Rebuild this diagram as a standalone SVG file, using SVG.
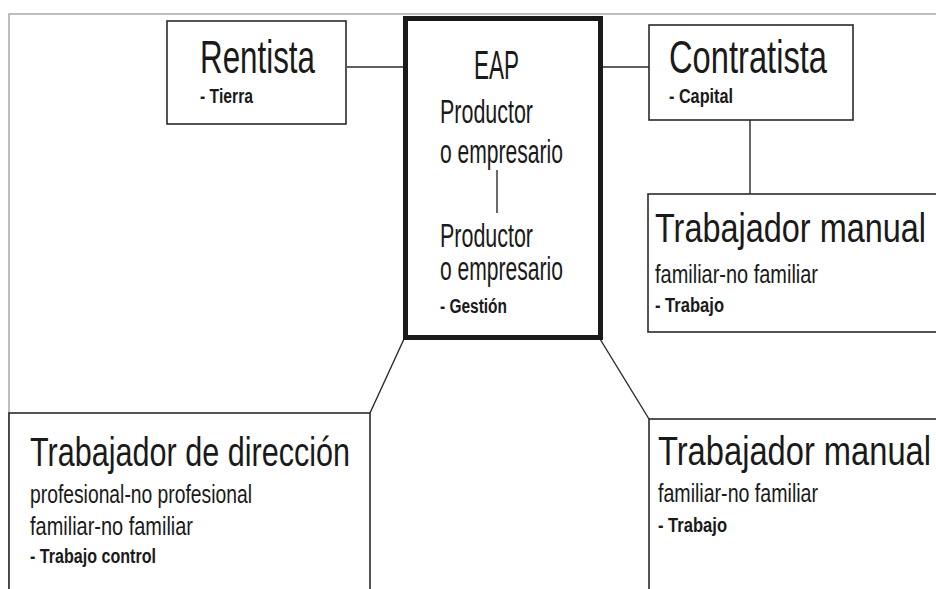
<svg xmlns="http://www.w3.org/2000/svg" width="936" height="589" viewBox="0 0 936 589">
<style>
  .box{fill:#fff;stroke:#2a2a2a;stroke-width:1.6}
  .eap{fill:#fff;stroke:#1a1a1a;stroke-width:5}
  .frame{fill:none;stroke:#a8a8a8;stroke-width:1.5}
  .conn line,.inner{stroke:#2a2a2a;stroke-width:1.4}
  text{font-family:"Liberation Sans",Arial,sans-serif;fill:#1a1a1a}
  .t1{font-size:46px}
  .t2{font-size:41px}
  .t3{font-size:33px}
  .sub{font-size:25px}
  .b{font-size:20px;font-weight:bold}
</style>
<rect width="936" height="589" fill="#fff"/>
<path class="frame" d="M9 589 V14 H936"/>
<g id="connectors" class="conn">
  <line x1="347" y1="67" x2="404" y2="67"/>
  <line x1="603" y1="67" x2="649" y2="67"/>
  <line x1="750" y1="120" x2="750" y2="194"/>
  <line x1="370" y1="413" x2="404" y2="339"/>
  <line x1="600" y1="339" x2="649" y2="419"/>
</g>
<g id="rentista">
  <rect class="box" x="167" y="21" width="179" height="103"/>
  <text class="t1" x="200" y="73" textLength="115" lengthAdjust="spacingAndGlyphs">Rentista</text>
  <text class="b" x="200" y="103" textLength="53" lengthAdjust="spacingAndGlyphs">- Tierra</text>
</g>
<g id="eap">
  <rect class="eap" x="405.5" y="18.5" width="195" height="319"/>
  <line class="inner" x1="497" y1="170" x2="497" y2="213"/>
  <text class="t2" x="474" y="79" textLength="45" lengthAdjust="spacingAndGlyphs">EAP</text>
  <text class="t3" x="440" y="123" textLength="93" lengthAdjust="spacingAndGlyphs">Productor</text>
  <text class="t3" x="440" y="163" textLength="123" lengthAdjust="spacingAndGlyphs">o empresario</text>
  <text class="t3" x="440" y="247" textLength="93" lengthAdjust="spacingAndGlyphs">Productor</text>
  <text class="t3" x="440" y="280" textLength="123" lengthAdjust="spacingAndGlyphs">o empresario</text>
  <text class="b" x="440" y="313" textLength="67" lengthAdjust="spacingAndGlyphs">- Gestión</text>
</g>
<g id="contratista">
  <rect class="box" x="649" y="25" width="204" height="95"/>
  <text class="t1" x="669" y="73" textLength="158" lengthAdjust="spacingAndGlyphs">Contratista</text>
  <text class="b" x="669" y="103" textLength="64" lengthAdjust="spacingAndGlyphs">- Capital</text>
</g>
<g id="trabajador-manual-1">
  <rect class="box" x="648" y="194" width="300" height="138"/>
  <text class="t2" x="655" y="242" textLength="271" lengthAdjust="spacingAndGlyphs">Trabajador manual</text>
  <text class="sub" x="655" y="283" textLength="163" lengthAdjust="spacingAndGlyphs">familiar-no familiar</text>
  <text class="b" x="655" y="312" textLength="69" lengthAdjust="spacingAndGlyphs">- Trabajo</text>
</g>
<g id="trabajador-direccion">
  <rect class="box" x="9" y="413" width="361" height="190"/>
  <text class="t2" x="30" y="466" textLength="320" lengthAdjust="spacingAndGlyphs">Trabajador de dirección</text>
  <text class="sub" x="30" y="503" textLength="222" lengthAdjust="spacingAndGlyphs">profesional-no profesional</text>
  <text class="sub" x="30" y="535" textLength="163" lengthAdjust="spacingAndGlyphs">familiar-no familiar</text>
  <text class="b" x="30" y="563" textLength="126" lengthAdjust="spacingAndGlyphs">- Trabajo control</text>
</g>
<g id="trabajador-manual-2">
  <rect class="box" x="649" y="419" width="300" height="190"/>
  <text class="t2" x="658" y="465" textLength="273" lengthAdjust="spacingAndGlyphs">Trabajador manual</text>
  <text class="sub" x="658" y="502" textLength="160" lengthAdjust="spacingAndGlyphs">familiar-no familiar</text>
  <text class="b" x="658" y="532" textLength="69" lengthAdjust="spacingAndGlyphs">- Trabajo</text>
</g>
</svg>
